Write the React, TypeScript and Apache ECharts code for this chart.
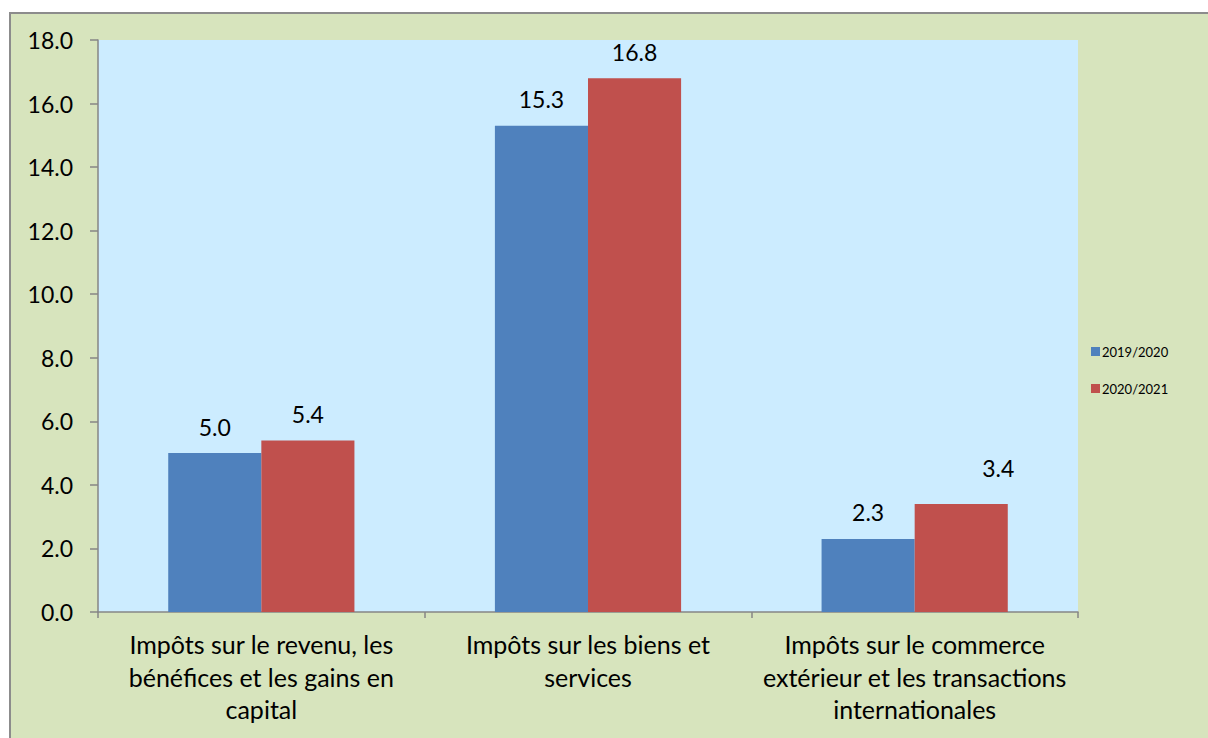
import React, { useEffect, useRef } from "react";
import * as echarts from "echarts";

const categories = [
  "Impôts sur le revenu, les\nbénéfices et les gains en\ncapital",
  "Impôts sur les biens et\nservices",
  "Impôts sur le commerce\nextérieur et les transactions\ninternationales",
];
const seriesNames = ["2019/2020", "2020/2021"];
const values2019 = [5.0, 15.3, 2.3];
const values2020 = [5.4, 16.8, 3.4];
const colors = ["#4F81BD", "#C0504D"];

const FONT = "Lato, 'Open Sans', sans-serif";

export default function App() {
  const ref = useRef<HTMLDivElement>(null);
  useEffect(() => {
    if (!ref.current) return;
    const chart = echarts.init(ref.current, undefined, { renderer: "svg" });
    const label = {
      show: true,
      position: "top",
      distance: 15,
      fontSize: 23,
      color: "#000",
      fontFamily: FONT,
      formatter: (p: any) => Number(p.value).toFixed(1),
    };
    // last label of second series is nudged in the reference
    const data2020 = values2020.map((v, i) =>
      i === 2 ? { value: v, label: { offset: [37, -9] } } : v
    );
    chart.setOption({
      animation: false,
      backgroundColor: "transparent",
      textStyle: { fontFamily: FONT },
      grid: {
        left: 98,
        top: 40,
        right: 130,
        bottom: 126,
        show: true,
        backgroundColor: "#CCECFF",
        borderWidth: 0,
        containLabel: false,
      },
      legend: {
        orient: "vertical",
        left: 1086,
        top: 340,
        itemWidth: 9,
        itemHeight: 9,
        itemGap: 24,
        icon: "rect",
        textStyle: { fontSize: 13, color: "#000", fontFamily: FONT, padding: [0, 0, 0, -3] },
        data: seriesNames,
      },
      xAxis: {
        type: "category",
        data: categories,
        axisLine: { show: true, lineStyle: { color: "#868686", width: 1.5 } },
        axisTick: { show: true, length: 6, lineStyle: { color: "#868686", width: 1.5 } },
        axisLabel: {
          interval: 0,
          fontSize: 25,
          lineHeight: 32.5,
          margin: 16,
          color: "#000",
          fontFamily: FONT,
          align: "center",
        },
        splitLine: { show: false },
      },
      yAxis: {
        type: "value",
        min: 0,
        max: 18,
        interval: 2,
        axisLine: { show: true, lineStyle: { color: "#868686", width: 1.5 } },
        axisTick: { show: true, length: 8, lineStyle: { color: "#868686", width: 1.5 } },
        axisLabel: {
          fontSize: 23,
          color: "#000",
          margin: 25,
          fontFamily: FONT,
          formatter: (v: number) => v.toFixed(1),
        },
        splitLine: { show: false },
      },
      series: [
        {
          name: seriesNames[0],
          type: "bar",
          data: values2019,
          itemStyle: { color: colors[0] },
          barGap: "0%",
          barCategoryGap: "43%",
          label,
        },
        {
          name: seriesNames[1],
          type: "bar",
          data: data2020,
          itemStyle: { color: colors[1] },
          barGap: "0%",
          barCategoryGap: "43%",
          label,
        },
      ],
    });
    return () => chart.dispose();
  }, []);
  return (
    <div
      style={{
        position: "fixed",
        left: 0,
        top: 0,
        width: 1208,
        height: 738,
        background: "#fff",
        overflow: "hidden",
      }}
    >
      <div
        style={{
          position: "absolute",
          left: 9,
          top: 12,
          width: 1300,
          height: 800,
          background: "#D7E4BD",
          borderLeft: "2px solid #8C8C8C",
          borderTop: "2px solid #8C8C8C",
        }}
      />
      <div ref={ref} style={{ position: "absolute", left: 0, top: 0, width: 1208, height: 738 }} />
    </div>
  );
}
